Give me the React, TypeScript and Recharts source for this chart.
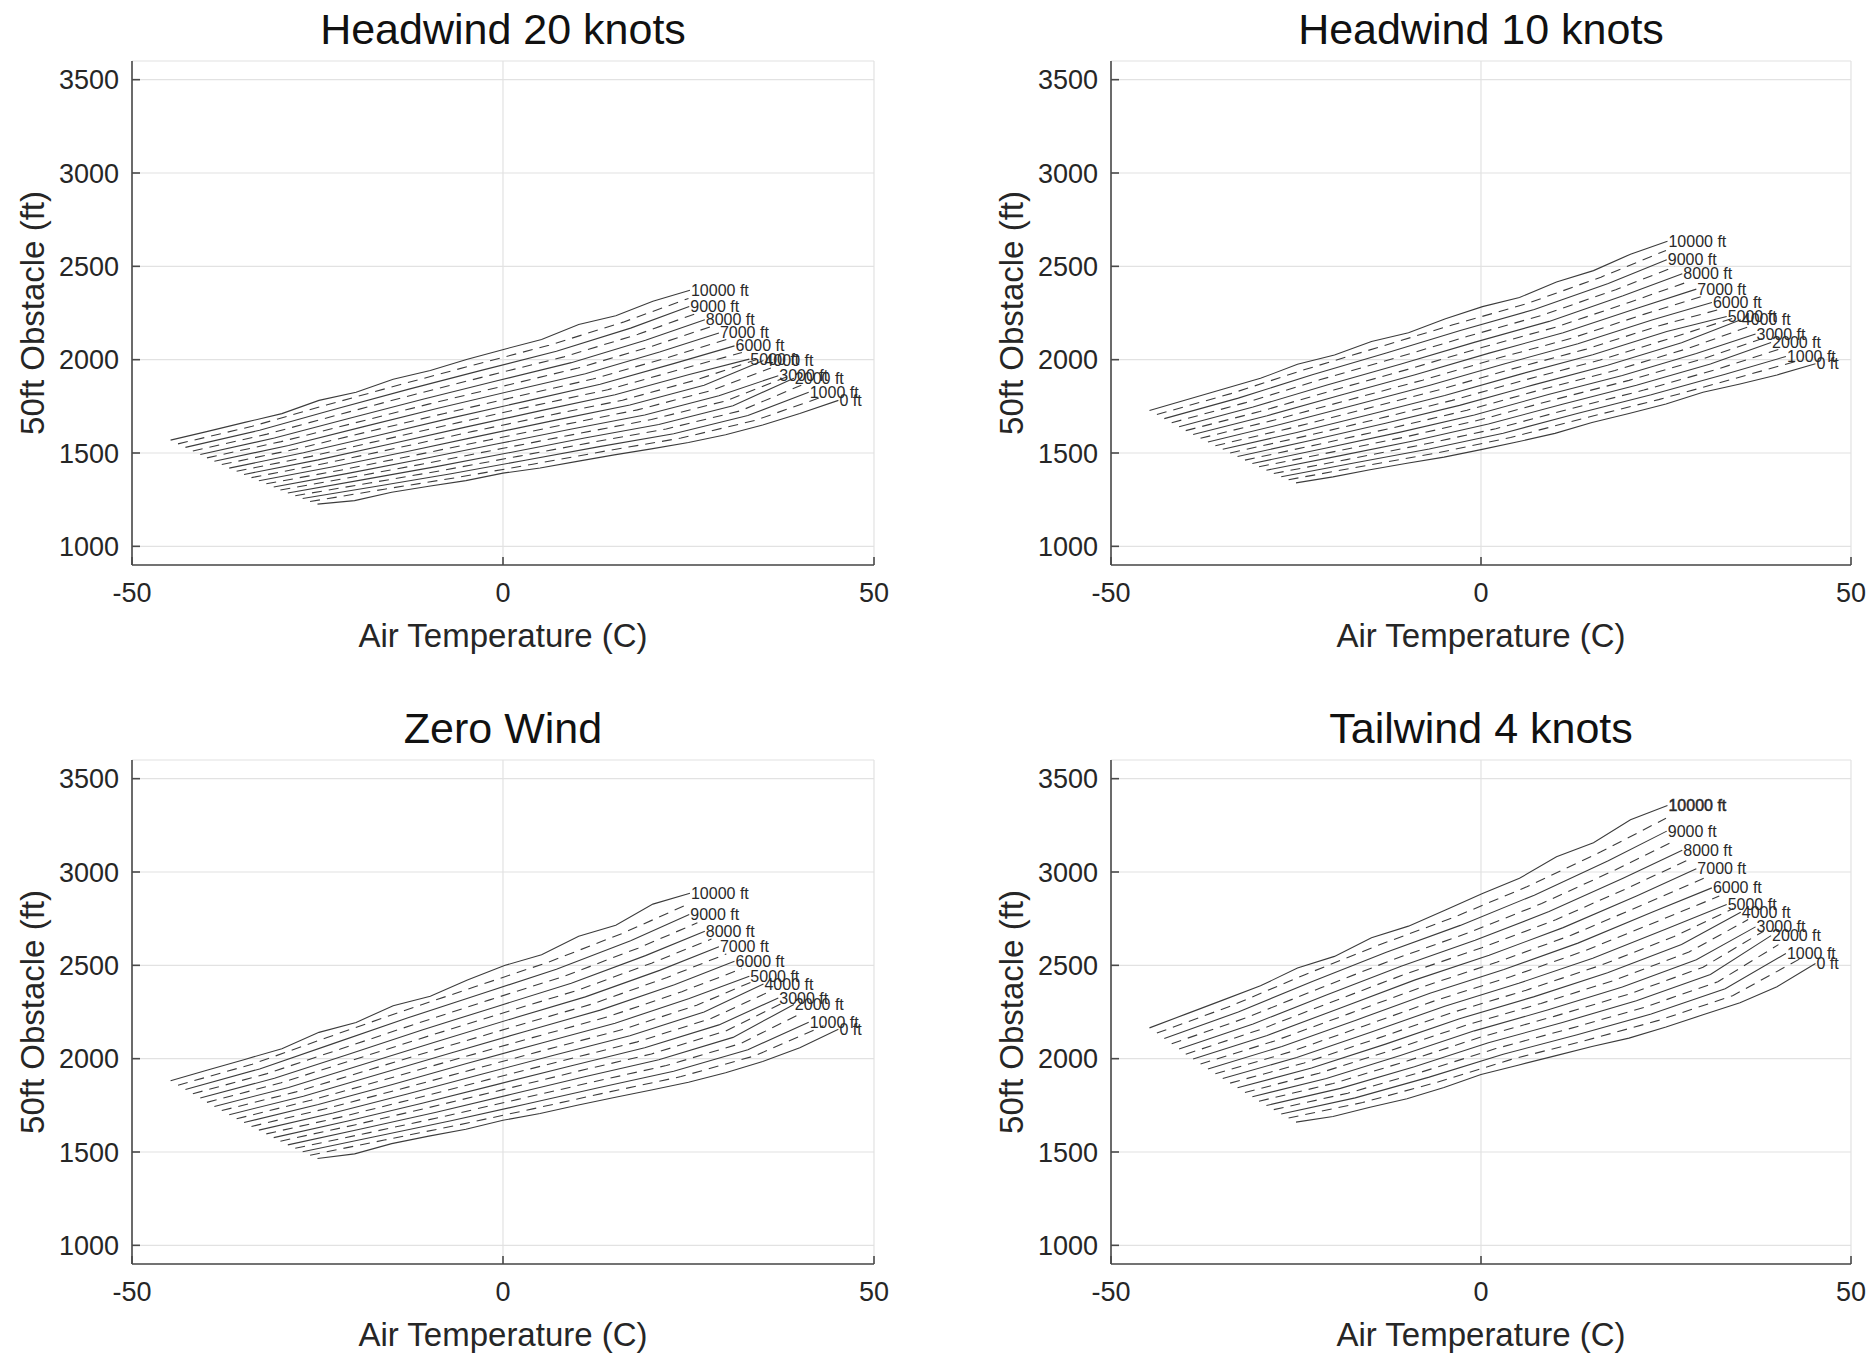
import React from 'react';
import { LineChart, Line, XAxis, YAxis, CartesianGrid } from 'recharts';

// Pressure altitude of each curve (ft); solid curves every 1000 ft, dashed in between
const ALTITUDES = [0, 500, 1000, 1500, 2000, 2500, 3000, 3500, 4000, 4500, 5000, 5500, 6000, 6500, 7000, 7500, 8000, 8500, 9000, 9500, 10000];
// Standard-day temperature at each altitude (C)
const ISA_TEMPS = [15.0, 14.0, 13.0, 12.0, 11.0, 10.0, 9.1, 8.1, 7.1, 6.1, 5.1, 4.1, 3.1, 2.1, 1.1, 0.1, -0.8, -1.8, -2.8, -3.8, -4.8];
// Last temperature charted on each curve (C)
const END_TEMPS = [45.2, 43.2, 41.2, 40.2, 39.2, 38.2, 37.1, 36.1, 35.1, 34.1, 33.2, 32.2, 31.2, 30.1, 29.1, 28.1, 27.2, 26.2, 25.1, 25.0, 25.2];
// Temperature offsets from standard for the sampled points
const FINE_OFFSETS = [-40, -35, -30, -25, -20, -15, -10, -5, 0, 5, 10, 15, 20, 25];
const COARSE_OFFSETS = [-40, -30, -20, -10, 0, 10, 20];

const X_TICKS = [-50, 0, 50];
const Y_TICKS = [1000, 1500, 2000, 2500, 3000, 3500];

// Distance over a 50 ft obstacle (ft), one row per altitude
const HEADWIND_20 = [
  [1226, 1245, 1290, 1322, 1352, 1392, 1420, 1455, 1490, 1522, 1556, 1598, 1650, 1712, 1782],
  [1240, 1306, 1370, 1440, 1512, 1580, 1675, 1803],
  [1256, 1322, 1389, 1461, 1534, 1603, 1701, 1825],
  [1271, 1339, 1408, 1482, 1557, 1629, 1726, 1863],
  [1286, 1356, 1427, 1503, 1580, 1653, 1753, 1901],
  [1302, 1373, 1447, 1525, 1603, 1679, 1779, 1907],
  [1318, 1391, 1468, 1548, 1627, 1704, 1807, 1914],
  [1335, 1408, 1488, 1570, 1651, 1731, 1835, 1955],
  [1351, 1426, 1508, 1593, 1676, 1757, 1863, 1996],
  [1368, 1445, 1530, 1617, 1701, 1783, 1892, 2000],
  [1385, 1463, 1551, 1640, 1727, 1812, 1921, 2003],
  [1402, 1482, 1573, 1664, 1753, 1839, 1950, 2038],
  [1419, 1501, 1594, 1688, 1778, 1868, 1980, 2074],
  [1438, 1521, 1617, 1712, 1805, 1896, 2010, 2108],
  [1456, 1540, 1640, 1738, 1832, 1925, 2041, 2143],
  [1474, 1561, 1662, 1763, 1859, 1955, 2072, 2178],
  [1492, 1580, 1685, 1788, 1887, 1984, 2104, 2214],
  [1511, 1601, 1709, 1815, 1916, 2015, 2136, 2250],
  [1530, 1622, 1733, 1841, 1944, 2045, 2169, 2285],
  [1549, 1643, 1757, 1867, 1973, 2077, 2201, 2328],
  [1569, 1616, 1664, 1711, 1782, 1825, 1895, 1942, 2002, 2056, 2108, 2188, 2235, 2313, 2372],
];

const HEADWIND_10 = [
  [1340, 1372, 1410, 1445, 1478, 1518, 1560, 1605, 1663, 1712, 1762, 1825, 1870, 1918, 1978],
  [1357, 1429, 1500, 1583, 1687, 1786, 1896, 1998],
  [1373, 1448, 1521, 1606, 1712, 1812, 1922, 2017],
  [1390, 1466, 1544, 1630, 1736, 1837, 1950, 2055],
  [1408, 1486, 1566, 1655, 1761, 1863, 1977, 2092],
  [1426, 1506, 1588, 1679, 1787, 1889, 2005, 2115],
  [1444, 1527, 1612, 1704, 1813, 1915, 2033, 2137],
  [1462, 1547, 1635, 1729, 1839, 1942, 2062, 2176],
  [1481, 1568, 1659, 1755, 1865, 1970, 2091, 2214],
  [1500, 1589, 1683, 1782, 1893, 1998, 2121, 2223],
  [1520, 1610, 1708, 1808, 1920, 2026, 2151, 2231],
  [1539, 1632, 1733, 1836, 1949, 2055, 2182, 2269],
  [1559, 1655, 1758, 1863, 1977, 2085, 2213, 2306],
  [1579, 1677, 1784, 1890, 2006, 2113, 2244, 2342],
  [1599, 1700, 1811, 1919, 2035, 2144, 2276, 2378],
  [1620, 1722, 1837, 1948, 2065, 2174, 2308, 2419],
  [1641, 1746, 1864, 1977, 2094, 2205, 2342, 2460],
  [1662, 1770, 1892, 2006, 2125, 2237, 2375, 2498],
  [1684, 1794, 1919, 2036, 2156, 2269, 2408, 2535],
  [1706, 1818, 1947, 2067, 2187, 2300, 2442, 2585],
  [1728, 1785, 1843, 1900, 1975, 2025, 2097, 2144, 2219, 2284, 2333, 2416, 2477, 2565, 2634],
];

const ZERO_WIND = [
  [1465, 1490, 1545, 1585, 1622, 1670, 1706, 1750, 1792, 1832, 1874, 1925, 1985, 2058, 2157],
  [1483, 1564, 1645, 1731, 1819, 1904, 2016, 2176],
  [1501, 1584, 1667, 1756, 1846, 1933, 2048, 2195],
  [1520, 1604, 1690, 1782, 1874, 1963, 2081, 2243],
  [1538, 1625, 1713, 1808, 1903, 1994, 2114, 2290],
  [1558, 1645, 1738, 1834, 1932, 2025, 2148, 2308],
  [1577, 1666, 1761, 1861, 1961, 2058, 2181, 2325],
  [1597, 1687, 1786, 1889, 1990, 2090, 2216, 2363],
  [1617, 1709, 1811, 1917, 2021, 2123, 2250, 2400],
  [1637, 1732, 1836, 1944, 2051, 2156, 2286, 2421],
  [1658, 1754, 1862, 1974, 2083, 2190, 2322, 2442],
  [1678, 1777, 1888, 2002, 2114, 2224, 2359, 2482],
  [1700, 1799, 1915, 2032, 2147, 2260, 2396, 2522],
  [1722, 1822, 1942, 2062, 2179, 2294, 2435, 2561],
  [1744, 1846, 1969, 2092, 2213, 2331, 2473, 2599],
  [1766, 1871, 1997, 2123, 2246, 2367, 2513, 2641],
  [1789, 1895, 2024, 2155, 2280, 2404, 2552, 2683],
  [1812, 1920, 2053, 2186, 2315, 2441, 2592, 2728],
  [1835, 1945, 2082, 2219, 2349, 2479, 2632, 2772],
  [1858, 1970, 2112, 2251, 2385, 2518, 2673, 2829],
  [1882, 1939, 1996, 2053, 2141, 2194, 2284, 2334, 2421, 2499, 2557, 2656, 2715, 2828, 2886],
];

const TAILWIND_4 = [
  [1660, 1690, 1740, 1785, 1845, 1915, 1965, 2015, 2065, 2110, 2170, 2235, 2300, 2385, 2510],
  [1682, 1765, 1873, 1995, 2096, 2205, 2337, 2537],
  [1704, 1790, 1901, 2024, 2128, 2239, 2375, 2563],
  [1727, 1815, 1929, 2054, 2161, 2274, 2412, 2611],
  [1749, 1841, 1957, 2085, 2194, 2310, 2451, 2659],
  [1772, 1867, 1987, 2116, 2228, 2346, 2490, 2683],
  [1796, 1894, 2017, 2149, 2262, 2384, 2530, 2706],
  [1819, 1922, 2048, 2181, 2296, 2421, 2571, 2745],
  [1844, 1950, 2078, 2214, 2331, 2460, 2612, 2784],
  [1869, 1977, 2110, 2247, 2367, 2499, 2654, 2805],
  [1894, 2006, 2141, 2281, 2404, 2538, 2696, 2826],
  [1919, 2035, 2174, 2315, 2440, 2579, 2740, 2871],
  [1945, 2065, 2206, 2351, 2478, 2619, 2784, 2915],
  [1971, 2095, 2240, 2385, 2516, 2660, 2828, 2966],
  [1998, 2124, 2273, 2422, 2554, 2702, 2873, 3017],
  [2024, 2155, 2308, 2458, 2594, 2744, 2919, 3067],
  [2052, 2186, 2342, 2495, 2634, 2788, 2966, 3116],
  [2080, 2218, 2377, 2532, 2673, 2831, 3012, 3168],
  [2108, 2250, 2414, 2570, 2714, 2876, 3060, 3219],
  [2137, 2282, 2450, 2609, 2755, 2921, 3108, 3288],
  [2165, 2240, 2315, 2390, 2486, 2548, 2648, 2710, 2797, 2885, 2966, 3082, 3157, 3280, 3356],
];

const FONT = '"Liberation Sans", Arial, Helvetica, sans-serif';
const INK = '#262626';

const PANELS = [
  { title: 'Headwind 20 knots', rows: HEADWIND_20, left: 132, top: 61, width: 742, height: 504, heavyTop: false },
  { title: 'Headwind 10 knots', rows: HEADWIND_10, left: 1111, top: 61, width: 740, height: 504, heavyTop: false },
  { title: 'Zero Wind', rows: ZERO_WIND, left: 132, top: 760, width: 742, height: 504, heavyTop: false },
  { title: 'Tailwind 4 knots', rows: TAILWIND_4, left: 1111, top: 760, width: 740, height: 504, heavyTop: true },
];

type Pt = { x: number; y: number };

function curvePoints(k: number, row: number[]): Pt[] {
  const offsets = row.length === FINE_OFFSETS.length + 1 ? FINE_OFFSETS : COARSE_OFFSETS;
  const pts = offsets.map((o, j) => ({ x: ISA_TEMPS[k] + o, y: row[j] }));
  pts.push({ x: END_TEMPS[k], y: row[row.length - 1] });
  return pts;
}

// Altitude tag written at the end of each solid curve
const endLabel = (text: string, last: number, heavy: boolean) => (p: any) => {
  if (p.index !== last) return <g key={`d${p.index}`} />;
  return (
    <text
      key={`lbl${p.index}`}
      x={p.cx + 1}
      y={p.cy}
      dominantBaseline="central"
      fontSize={16}
      fontFamily={FONT}
      fill="#2a2a2a"
      stroke={heavy ? '#2a2a2a' : 'none'}
      strokeWidth={heavy ? 0.5 : 0}
    >
      {text}
    </text>
  );
};

const Y_AXIS_W = 110;
const PAD_TOP = 20;
const PAD_RIGHT = 30;
const X_AXIS_H = 62;

function Panel({ title, rows, left, top, width, height, heavyTop }: any) {
  const chartW = Y_AXIS_W + width + PAD_RIGHT;
  const chartH = PAD_TOP + height + X_AXIS_H;
  const cx = left + width / 2;
  const axisStroke = { stroke: '#4a4a4a', strokeWidth: 1.6 };
  const lastRow = rows.length - 1;
  return (
    <>
      <div
        style={{
          position: 'absolute',
          left: cx,
          top: top - 32,
          transform: 'translate(-50%, -50%)',
          fontSize: 43,
          fontFamily: FONT,
          color: '#111',
          whiteSpace: 'nowrap',
          lineHeight: 1,
        }}
      >
        {title}
      </div>
      <div
        style={{
          position: 'absolute',
          left: cx,
          top: top + height + 70,
          transform: 'translate(-50%, -50%)',
          fontSize: 33,
          fontFamily: FONT,
          color: INK,
          whiteSpace: 'nowrap',
          lineHeight: 1,
        }}
      >
        Air Temperature (C)
      </div>
      <div
        style={{
          position: 'absolute',
          left: left - 100,
          top: top + height / 2,
          transform: 'translate(-50%, -50%) rotate(-90deg)',
          fontSize: 33,
          fontFamily: FONT,
          color: INK,
          whiteSpace: 'nowrap',
          lineHeight: 1,
        }}
      >
        50ft Obstacle (ft)
      </div>
      <div style={{ position: 'absolute', left: left - Y_AXIS_W, top: top - PAD_TOP }}>
        <LineChart width={chartW} height={chartH} margin={{ top: PAD_TOP, right: PAD_RIGHT, bottom: 0, left: 0 }}>
          <CartesianGrid stroke="#e2e2e2" strokeWidth={1.2} />
          <XAxis
            type="number"
            dataKey="x"
            domain={[-50, 50]}
            ticks={X_TICKS}
            interval={0}
            height={X_AXIS_H}
            tickSize={-8}
            tickMargin={26}
            axisLine={axisStroke}
            tickLine={axisStroke}
            tick={{ fill: INK, fontSize: 27, fontFamily: FONT }}
            allowDataOverflow
          />
          <YAxis
            type="number"
            domain={[900, 3600]}
            ticks={Y_TICKS}
            interval={0}
            width={Y_AXIS_W}
            tickSize={-8}
            tickMargin={21}
            axisLine={axisStroke}
            tickLine={axisStroke}
            tick={{ fill: INK, fontSize: 27, fontFamily: FONT }}
            allowDataOverflow
          />
          {rows.map((row: number[], k: number) => {
            const pts = curvePoints(k, row);
            const solid = ALTITUDES[k] % 1000 === 0;
            return (
              <Line
                key={`c${k}`}
                data={pts}
                dataKey="y"
                type="linear"
                stroke="#3c3c3c"
                strokeWidth={1.1}
                strokeDasharray={solid ? undefined : '10 7'}
                dot={solid ? endLabel(`${ALTITUDES[k]} ft`, pts.length - 1, heavyTop && k === lastRow) : false}
                activeDot={false}
                isAnimationActive={false}
              />
            );
          })}
        </LineChart>
      </div>
    </>
  );
}

export default function App() {
  return (
    <div
      style={{
        position: 'absolute',
        left: 0,
        top: 0,
        width: 1871,
        height: 1355,
        background: '#ffffff',
        overflow: 'hidden',
      }}
    >
      {PANELS.map((p) => (
        <Panel key={p.title} {...p} />
      ))}
    </div>
  );
}
